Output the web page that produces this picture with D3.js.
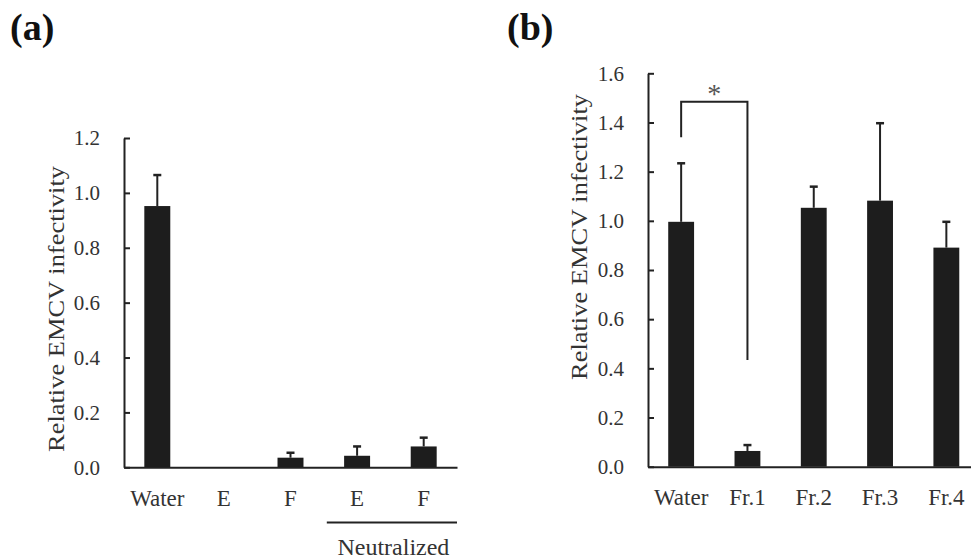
<!DOCTYPE html>
<html><head><meta charset="utf-8">
<script src="https://cdn.jsdelivr.net/npm/d3@7/dist/d3.min.js"></script>
<style>
body{margin:0;background:#fff;}
svg{display:block;font-family:"Liberation Serif","Times New Roman",serif;}
</style></head>
<body><svg id="c" width="971" height="560"></svg>
<script>
// ---- data ----
const catsA = ["Water", "E", "F", "E", "F"];
const valsA = [0.952, 0, 0.035, 0.042, 0.076];
const errA  = [0.113, 0, 0.018, 0.034, 0.032];
const ticksA = [0, 0.2, 0.4, 0.6, 0.8, 1.0, 1.2];

const catsB = ["Water", "Fr.1", "Fr.2", "Fr.3", "Fr.4"];
const valsB = [0.996, 0.064, 1.053, 1.082, 0.891];
const errB  = [0.238, 0.024, 0.086, 0.315, 0.105];
const ticksB = [0, 0.2, 0.4, 0.6, 0.8, 1.0, 1.2, 1.4, 1.6];

const bracketB = {from: 0, to: 1, left: 1.34, top: 1.484, right: 0.434, label: "*"};
const groupLabelA = {from: 3, to: 4, label: "Neutralized"};
const yLabel = "Relative EMCV infectivity";

const svg = d3.select("#c");
const textCol = "#333", barCol = "#1d1d1d", lineCol = "#222";
const PO = 0.305;

function panel(o) {
  const g = svg.append("g");
  const x = d3.scaleBand().domain(o.cats.map((d, i) => i)).range(o.xr).paddingInner(0.61).paddingOuter(PO);
  const y = d3.scaleLinear().domain([0, o.ymax]).range(o.yr);

  // bars
  g.selectAll("rect.bar").data(o.vals).join("rect")
    .attr("x", (d, i) => x(i)).attr("width", x.bandwidth())
    .attr("y", d => y(d)).attr("height", d => y(0) - y(d))
    .attr("fill", barCol);

  // error bars
  const eb = o.vals.map((v, i) => ({i, v, e: o.errs[i]})).filter(d => d.e > 0);
  g.selectAll("line.err").data(eb).join("line")
    .attr("x1", d => x(d.i) + x.bandwidth() / 2).attr("x2", d => x(d.i) + x.bandwidth() / 2)
    .attr("y1", d => y(d.v)).attr("y2", d => y(d.v + d.e))
    .attr("stroke", lineCol).attr("stroke-width", 2);
  g.selectAll("line.cap").data(eb).join("line")
    .attr("x1", d => x(d.i) + x.bandwidth() / 2 - 4).attr("x2", d => x(d.i) + x.bandwidth() / 2 + 4)
    .attr("y1", d => y(d.v + d.e)).attr("y2", d => y(d.v + d.e))
    .attr("stroke", lineCol).attr("stroke-width", 2.5);

  // y axis
  const ya = g.append("g").attr("transform", `translate(${o.xr[0]},0)`)
    .call(d3.axisLeft(y).tickValues(o.ticks).tickFormat(d3.format(".1f")).tickSizeInner(-6).tickSizeOuter(0).tickPadding(24));
  ya.attr("font-family", null).attr("font-size", null);
  ya.select(".domain").attr("stroke", lineCol).attr("stroke-width", 2);
  ya.selectAll(".tick line").attr("stroke", lineCol).attr("stroke-width", 2);
  ya.selectAll(".tick text").attr("fill", textCol).attr("font-size", 21);

  // x axis
  const xa = g.append("g").attr("transform", `translate(0,${o.yr[0]})`)
    .call(d3.axisBottom(x).tickFormat(i => o.cats[i]).tickSize(0).tickPadding(22));
  xa.attr("font-family", null).attr("font-size", null);
  xa.select(".domain").attr("stroke", lineCol).attr("stroke-width", 2);
  xa.selectAll(".tick text").attr("fill", textCol).attr("font-size", 23);

  // y label
  g.append("text").attr("transform", `translate(${o.ylx},${o.yly}) rotate(-90)`)
    .attr("text-anchor", "middle").attr("dy", "0.35em")
    .attr("font-size", 23).attr("fill", textCol)
    .attr("textLength", o.ylLen).attr("lengthAdjust", "spacingAndGlyphs")
    .text(yLabel);

  // title
  svg.append("text").attr("x", o.tx).attr("y", 40).attr("font-size", 38).attr("font-weight", "bold")
    .attr("fill", "#111").text(o.title);
  return {g, x, y};
}

const A = panel({cats: catsA, vals: valsA, errs: errA, ticks: ticksA, ymax: 1.2,
  xr: [124, 457], yr: [467.3, 138], ylx: 56, yly: 309, ylLen: 286, title: "(a)", tx: 10});

// group label for neutralized
{
  const {g, x} = A;
  const x1 = x(groupLabelA.from) - PO * x.step() + 3, x2 = x(groupLabelA.to) + x.bandwidth() + PO * x.step();
  g.append("line").attr("x1", x1).attr("x2", x2).attr("y1", 522.5).attr("y2", 522.5)
    .attr("stroke", lineCol).attr("stroke-width", 2);
  g.append("text").attr("x", (x(groupLabelA.from) + x(groupLabelA.to) + x.bandwidth()) / 2 + 3).attr("y", 555)
    .attr("text-anchor", "middle").attr("font-size", 24).attr("fill", textCol).text(groupLabelA.label);
}

const B = panel({cats: catsB, vals: valsB, errs: errB, ticks: ticksB, ymax: 1.6,
  xr: [648, 979.5], yr: [466.7, 73.3], ylx: 579, yly: 237, ylLen: 286, title: "(b)", tx: 507});

// significance bracket
{
  const {g, x, y} = B;
  const cx = i => x(i) + x.bandwidth() / 2;
  const p = [[cx(bracketB.from), y(bracketB.left)], [cx(bracketB.from), y(bracketB.top)],
             [cx(bracketB.to), y(bracketB.top)], [cx(bracketB.to), y(bracketB.right)]];
  g.append("path").attr("d", d3.line()(p)).attr("fill", "none").attr("stroke", lineCol).attr("stroke-width", 2);
  g.append("text").attr("x", (cx(bracketB.from) + cx(bracketB.to)) / 2).attr("y", y(bracketB.top) + 1)
    .attr("text-anchor", "middle").attr("font-size", 28).attr("fill", "#555").text(bracketB.label);
}
</script></body></html>
